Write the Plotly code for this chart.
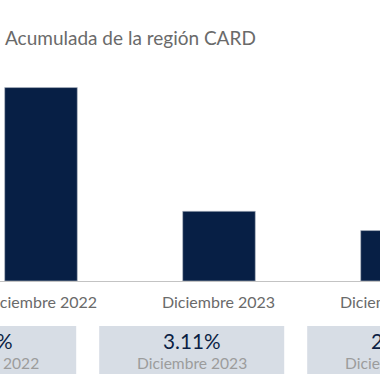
import plotly.graph_objects as go

# ---- data ----
categories = ["Diciembre 2022", "Diciembre 2023", "Diciembre 2024"]
values = [8.63, 3.11, 2.25]
value_labels = ["8.63%", "3.11%", "2.25%"]
title_text = "Acumulada de la región CARD"

# ---- layout constants ----
W, H = 380, 380
bar_color = "#071f45"
box_color = "#d7dde5"
FONT = "Lato"
x_range = [-0.2303, 1.9045]
plot_top, plot_bottom = 60, 281
y_range = [0, 9.86]

def xfrac(i):
    return (i - x_range[0]) / (x_range[1] - x_range[0])

def ypx(p):
    # pixel from top -> paper y (relative to plot area)
    return (plot_bottom - p) / (plot_bottom - plot_top)

box_center0 = 191.7  # px centre of the second box
box_pitch = 208
box_w = 185

fig = go.Figure()
fig.add_trace(go.Bar(
    x=list(range(len(categories))), y=values,
    width=0.408,
    marker=dict(color=bar_color, line=dict(color="#b8bfca", width=0.6)),
    hoverinfo="skip",
))

annotations = [dict(
    text=title_text, xref="paper", yref="paper", x=2.5 / W, y=ypx(38),
    xanchor="left", yanchor="middle", showarrow=False,
    font=dict(family=FONT, size=19, color="#6a6a6a"),
)]
shapes = []
for i, (cat, lab) in enumerate(zip(categories, value_labels)):
    annotations.append(dict(
        text=cat, xref="paper", yref="paper", x=xfrac(i), y=ypx(301.5),
        xanchor="center", yanchor="middle", showarrow=False,
        font=dict(family=FONT, size=16, color="#6a6a6a"),
    ))
    cx = (box_center0 + box_pitch * (i - 1))
    shapes.append(dict(
        type="rect", xref="paper", yref="paper",
        x0=(cx - box_w / 2) / W, x1=(cx + box_w / 2) / W,
        y0=ypx(374), y1=ypx(326), fillcolor=box_color, line=dict(width=0),
        layer="below",
    ))
    annotations.append(dict(
        text=lab, xref="paper", yref="paper", x=cx / W, y=ypx(340.5),
        xanchor="center", yanchor="middle", showarrow=False,
        font=dict(family=FONT, size=20.7, color="#0b1f44"),
    ))
    annotations.append(dict(
        text=cat, xref="paper", yref="paper", x=cx / W, y=ypx(362.5),
        xanchor="center", yanchor="middle", showarrow=False,
        font=dict(family=FONT, size=15.6, color="#9c9c9c"),
    ))

fig.update_layout(
    width=W, height=H,
    margin=dict(l=0, r=0, t=plot_top, b=H - plot_bottom),
    paper_bgcolor="white", plot_bgcolor="white",
    showlegend=False,
    xaxis=dict(range=x_range, showticklabels=False, showgrid=False, zeroline=False,
               showline=True, linecolor="#c3c3c3", linewidth=1, ticks=""),
    yaxis=dict(range=y_range, visible=False),
    annotations=annotations, shapes=shapes,
)
fig.write_html("out.html", config={"displayModeBar": False},
               post_script="document.body.style.margin='0';document.body.style.overflow='hidden';")
